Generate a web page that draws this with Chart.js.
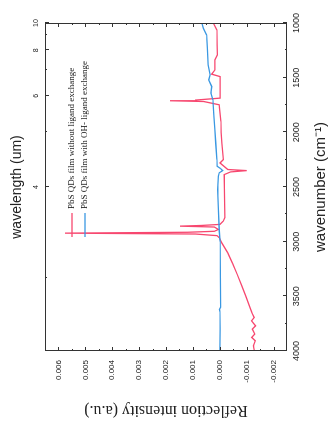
<!DOCTYPE html>
<html>
<head>
<meta charset="utf-8">
<script src="https://cdn.jsdelivr.net/npm/chart.js@4.4.1/dist/chart.umd.min.js"></script>
<style>
  html, body { margin: 0; padding: 0; background: #fff; overflow: hidden; }
  #wrap {
    position: absolute; left: 0; top: 0;
    width: 436px; height: 334px;
    transform-origin: 0 0;
    transform: translateY(436px) rotate(-90deg);
  }
</style>
</head>
<body>
<div id="wrap"><canvas id="spec" width="436" height="334"></canvas></div>
<script>
// the figure is printed on its side, so the chart is drawn upright and the box is turned
const wavenumberTicks = [1000, 1500, 2000, 2500, 3000, 3500, 4000];
const wavenumberMinor = [1250, 1750, 2250, 2750, 3250, 3750];
const wavelengthLabels = [4, 6, 8, 10];
const wavelengthMinor = [3, 5, 7, 9];
const intensityTicks = [-0.002, -0.001, 0, 0.001, 0.002, 0.003, 0.004, 0.005, 0.006];
const intensityMinor = [-0.0015, -0.0005, 0.0005, 0.0015, 0.0025, 0.0035, 0.0045, 0.0055];

const redLabel = 'PbS QDs film without ligand exchange';
const redWn = [1000, 1064, 1200, 1292, 1337, 1429, 1468, 1490, 1600, 1687, 1705, 1711, 1718, 1748,
  1900, 2000, 2100, 2250, 2280, 2340, 2350, 2362, 2387, 2500, 2650, 2780, 2812, 2842, 2852, 2858, 2866,
  2888, 2905, 2914, 2922, 2930, 2945, 2964, 3009, 3100, 3200, 3300, 3400, 3500, 3600, 3648,
  3693, 3724, 3770, 3800, 3845, 3876, 3906, 3952, 4000];
const redVal = [0.00024, 0.00011, 0.0001, 0.00009, 0.00018, 0.00018, 0.0003, -0.00001, -0.00001, -0.00001, 0.0009, 0.00185, 0.0006, 0.00002,
  -0.00004, -0.00005, -0.00008, -0.00013, -0.00001, -0.0003, -0.001, -0.0004, -0.00016, -0.00017, -0.00018, -0.00019, -0.00013, -0.00001, 0.0007, 0.00148, 0.0002,
  0.00005, 0.0002, 0.0012, 0.00576, 0.0009, 0.0001, 0.00002, -0.00007, -0.00029, -0.00048, -0.00065, -0.00081, -0.00097, -0.00112, -0.00119,
  -0.00128, -0.00118, -0.00133, -0.00121, -0.0013, -0.00119, -0.00132, -0.00125, -0.00129];

const blueLabel = 'PbS QDs film with OH- ligand exchange';
const blueWn = [1000, 1049, 1110, 1231, 1383, 1474, 1520, 1581, 1641, 1702, 1850, 1976, 2100, 2250, 2310,
  2330, 2350, 2370, 2400, 2523, 2700, 2900, 3000, 3300, 3600, 3620, 3640, 3800, 4000];
const blueVal = [0.00067, 0.00061, 0.00049, 0.00046, 0.00043, 0.00036, 0.00041, 0.0003, 0.00033, 0.00026, 0.00022, 0.00018, 0.00015, 0.00011, 0.0001,
  -0.00002, -0.00011, 0.00002, 0.00005, 0.00008, 0.00005, 0.00002, -0.00001, -0.00002, -0.00003, 0.00001, 0.0, -0.00001, 0.0];

const RED = '#f7476f';
const BLUE = '#3a98e2';
const INK = '#333';

function pts(xs, ys) {
  return xs.map((x, i) => ({x: x, y: ys[i]}));
}

// frame with inward ticks on all four sides, plus the little legend
const framePlugin = {
  id: 'frame',
  afterDraw(chart) {
    const {ctx, chartArea: a, scales} = chart;
    ctx.save();
    ctx.strokeStyle = INK;
    ctx.lineWidth = 1;
    ctx.strokeRect(a.left + 0.5, a.top + 0.5, a.right - a.left - 1, a.bottom - a.top - 1);

    ctx.beginPath();
    const xTick = (v, len) => {
      const px = Math.round(scales.x.getPixelForValue(v)) + 0.5;
      ctx.moveTo(px, a.bottom); ctx.lineTo(px, a.bottom - len);
    };
    wavenumberTicks.forEach(v => xTick(v, 4));
    wavenumberMinor.forEach(v => xTick(v, 2));

    const topTick = (lam, len) => {
      const px = Math.round(scales.x2.getPixelForValue(10000 / lam)) + 0.5;
      ctx.moveTo(px, a.top); ctx.lineTo(px, a.top + len);
    };
    wavelengthLabels.forEach(l => topTick(l, 4));
    wavelengthMinor.forEach(l => topTick(l, 2));

    const yTick = (v, len) => {
      const py = Math.round(scales.y.getPixelForValue(v)) + 0.5;
      ctx.moveTo(a.left, py); ctx.lineTo(a.left + len, py);
      ctx.moveTo(a.right, py); ctx.lineTo(a.right - len, py);
    };
    intensityTicks.forEach(v => yTick(v, 4));
    intensityMinor.forEach(v => yTick(v, 2));
    ctx.stroke();

    // legend
    ctx.font = '9px "Liberation Serif", serif';
    ctx.textBaseline = 'middle';
    ctx.fillStyle = '#222';
    chart.data.datasets.forEach((ds, i) => {
      const y = a.top + 27 + i * 13;
      const x0 = a.left + 114;
      ctx.beginPath();
      ctx.strokeStyle = ds.borderColor;
      ctx.lineWidth = 1.3;
      ctx.moveTo(x0, y); ctx.lineTo(x0 + 24, y);
      ctx.stroke();
      ctx.fillText(ds.label, x0 + 28, y);
    });
    ctx.restore();
  }
};

const tickFont = {family: '"Liberation Sans", Arial, sans-serif', size: 8};

new Chart(document.getElementById('spec'), {
  type: 'line',
  data: {
    datasets: [
      {label: redLabel, data: pts(redWn, redVal), borderColor: RED, borderWidth: 1.3, pointRadius: 0, tension: 0, order: 2},
      {label: blueLabel, data: pts(blueWn, blueVal), borderColor: BLUE, borderWidth: 1.3, pointRadius: 0, tension: 0, order: 1},
    ],
  },
  options: {
    responsive: false,
    animation: false,
    layout: {padding: {left: 0, right: 23, top: 0, bottom: 0}},
    plugins: {
      legend: {display: false},
      tooltip: {enabled: false},
    },
    scales: {
      x: {
        type: 'linear', position: 'bottom', min: 1000, max: 4000, reverse: true,
        afterBuildTicks: s => { s.ticks = wavenumberTicks.map(v => ({value: v})); },
        afterFit: s => { s.height = 47; },
        grid: {display: false, drawTicks: false},
        border: {display: false},
        ticks: {font: {...tickFont, size: 9}, color: '#222', padding: 4, maxRotation: 0, autoSkip: false,
          callback: v => String(v)},
        title: {display: true, text: 'wavenumber (cm⁻¹)', color: '#222',
          font: {family: '"Liberation Sans", Arial, sans-serif', size: 15}, padding: {top: 0, bottom: 4}},
      },
      x2: {
        type: 'linear', position: 'top', min: 1000, max: 4000, reverse: true,
        afterBuildTicks: s => { s.ticks = wavelengthLabels.map(l => ({value: 10000 / l})); },
        afterFit: s => { s.height = 45; },
        grid: {display: false, drawTicks: false},
        border: {display: false},
        ticks: {font: {...tickFont, size: 7}, color: '#222', padding: 5, maxRotation: 0, autoSkip: false,
          callback: (v, i) => String(wavelengthLabels[i])},
        title: {display: true, text: 'wavelength (um)', color: '#222',
          font: {family: '"Liberation Sans", Arial, sans-serif', size: 14}, padding: {top: 9, bottom: 0}},
      },
      y: {
        type: 'linear', position: 'left', min: -0.0025, max: 0.0065,
        afterBuildTicks: s => { s.ticks = intensityTicks.map(v => ({value: v})); },
        afterFit: s => { s.width = 85; },
        grid: {display: false, drawTicks: false},
        border: {display: false},
        ticks: {font: tickFont, color: '#222', padding: 9, autoSkip: false,
          callback: v => v.toFixed(3)},
        title: {display: true, text: 'Reflection intensity (a.u.)', color: '#222',
          font: {family: '"Liberation Serif", "Times New Roman", serif', size: 16}, padding: {top: 16, bottom: 0}},
      },
    },
  },
  plugins: [framePlugin],
});
</script>
</body>
</html>
